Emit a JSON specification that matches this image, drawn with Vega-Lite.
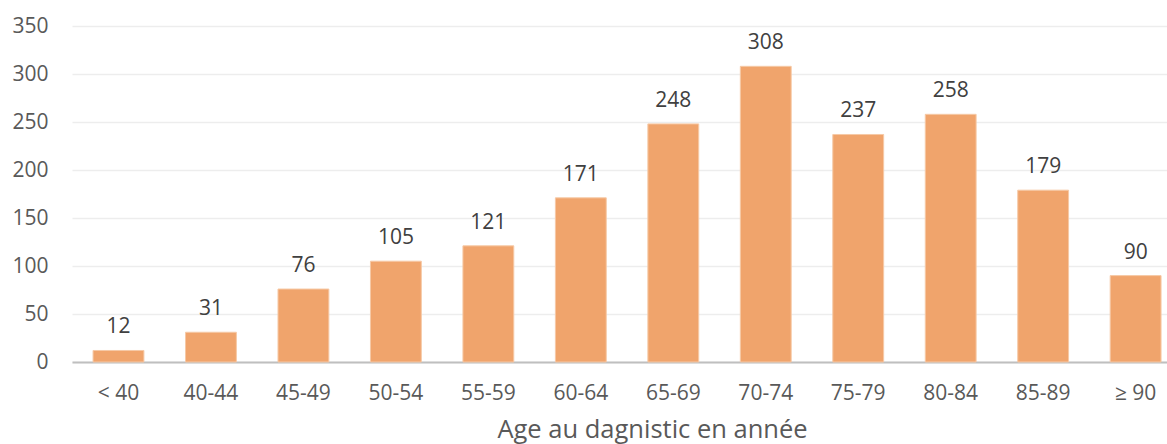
{
  "$schema": "https://vega.github.io/schema/vega-lite/v6.json",
  "width": 1095,
  "height": 336,
  "autosize": "none",
  "padding": {"left": 72, "top": 26, "right": 0, "bottom": 82},
  "background": "white",
  "config": {"view": {"stroke": null}, "font": "Open Sans"},
  "data": {"values": [
    {"age": "< 40", "n": 12},
    {"age": "40-44", "n": 31},
    {"age": "45-49", "n": 76},
    {"age": "50-54", "n": 105},
    {"age": "55-59", "n": 121},
    {"age": "60-64", "n": 171},
    {"age": "65-69", "n": 248},
    {"age": "70-74", "n": 308},
    {"age": "75-79", "n": 237},
    {"age": "80-84", "n": 258},
    {"age": "85-89", "n": 179},
    {"age": "≥ 90", "n": 90}
  ]},
  "encoding": {
    "x": {"field": "age", "type": "nominal", "sort": null,
      "scale": {"paddingInner": 0.45, "paddingOuter": 0.146, "align": 0.78},
      "axis": {"title": "Age au dagnistic en année", "labelAngle": 0, "labelFontSize": 21, "labelColor": "#595959",
        "labelPadding": 20, "ticks": false, "domainColor": "#BFBFBF", "domainWidth": 2,
        "titleFontSize": 25.5, "titleFontWeight": "normal", "titleColor": "#595959", "titlePadding": 14,
        "titleX": 580, "titleAlign": "center"}},
    "y": {"field": "n", "type": "quantitative",
      "scale": {"domain": [0, 350]},
      "axis": {"title": null, "values": [0, 50, 100, 150, 200, 250, 300, 350], "labelFontSize": 21, "labelColor": "#595959",
        "ticks": false, "domain": false, "labelPadding": 24, "gridColor": "#EDEDED", "gridWidth": 1.5}}
  },
  "layer": [
    {"mark": {"type": "bar", "color": "#F0A46C", "stroke": "#F6C9A6", "strokeWidth": 1}},
    {"mark": {"type": "text", "baseline": "alphabetic", "dy": -17, "fontSize": 21, "color": "#404040"},
      "encoding": {"text": {"field": "n", "type": "quantitative"}}}
  ]
}
